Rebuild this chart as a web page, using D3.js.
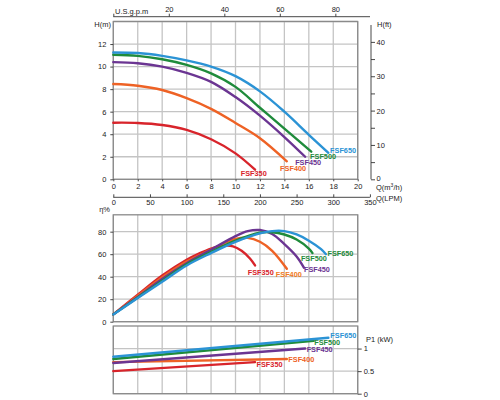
<!DOCTYPE html>
<meta charset="utf-8">
<style>
body { margin: 0; background: #fff; }
svg text { font-family: "Liberation Sans", Arial, sans-serif; font-size: 7.5px; fill: #222; }
.grid line { stroke: #c4c4c4; stroke-width: 1.3; }
.frame { fill: none; stroke: #8a8a8a; stroke-width: 1.3; }
.axis path, .axis line { stroke: #333; stroke-width: 0.9; }
.curve { fill: none; stroke-width: 2.4; stroke-linecap: round; }
.lbl { font-weight: bold; font-size: 7.3px; }
</style>
<body>
<div id="chart"></div>
</body>
<script src="https://d3js.org/d3.v7.min.js"></script>
<script>

// ---- data ----
var models = ["FSF350", "FSF400", "FSF450", "FSF500", "FSF650"];
var colors = ["#d8242b", "#ee6225", "#6b3592", "#1f8b3b", "#2b93d5"];

var qTicks = [0, 2, 4, 6, 8, 10, 12, 14, 16, 18, 20];
var gpmTicks = [0, 20, 40, 60, 80];
var lpmTicks = [0, 50, 100, 150, 200, 250, 300, 350];
var hTicks = [0, 2, 4, 6, 8, 10, 12];
var ftTicks = [0, 5, 10, 15, 20, 25, 30, 35, 40];
var effTicks = [0, 20, 40, 60, 80];
var powTicks = [0, 0.5, 1];

// head H(m) vs Q(m3/h)
var head350 = [[0,5.02],[2,5.0],[4,4.82],[6,4.38],[8,3.55],[10,2.3],[11.6,0.85]];
var head400 = [[0,8.45],[2,8.3],[4,7.92],[6,7.2],[8,6.25],[10,5.0],[12,3.65],[14.2,1.6]];
var head450 = [[0,10.4],[2,10.3],[4,10.0],[6,9.45],[8,8.65],[10,7.3],[12,5.65],[14,3.75],[15.7,2.0]];
var head500 = [[0,11.05],[2,10.95],[4,10.65],[6,10.15],[8,9.4],[10,8.2],[12,6.35],[14,4.5],[16.2,2.45]];
var head650 = [[0,11.25],[2,11.2],[4,10.95],[6,10.55],[8,10.0],[10,9.15],[12,7.8],[14,6.0],[16,3.95],[17.6,2.35]];

// efficiency % vs Q
var eff350 = [[0,6.5],[2,24],[4,41],[6,55],[7,60.5],[8,65],[9,67.5],[9.8,67],[10.5,63],[11.2,56],[11.6,50]];
var eff400 = [[0,6.5],[2,23],[4,39.5],[6,53.5],[8,64],[9,69.5],[10,73.5],[11,74.5],[12,71],[13,63],[14.2,47]];
var eff450 = [[0,6.5],[2,22],[4,38],[6,52],[8,64],[10,76],[11,80.5],[12,81.5],[13,78],[14,69],[15,58],[15.6,48]];
var eff500 = [[0,6.5],[2,21.5],[4,36.5],[6,51],[8,62],[10,72],[12,79],[13,79.5],[14,77.5],[15,73],[16,65],[16.3,61]];
var eff650 = [[0,6.5],[2,21],[4,35.5],[6,50],[8,61],[10,71],[12,78.5],[13,80.5],[14,80.5],[15,77.5],[16,72],[17,64.5],[17.4,60]];

// power P1 (kW) vs Q
var pow350 = [[0,0.5],[11.6,0.7]];
var pow400 = [[0,0.7],[14.2,0.77]];
var pow450 = [[0,0.68],[15.7,1.0]];
var pow500 = [[0,0.77],[16.4,1.17]];
var pow650 = [[0,0.82],[17.6,1.24]];

var headData = [head350, head400, head450, head500, head650];
var effData = [eff350, eff400, eff450, eff500, eff650];
var powData = [pow350, pow400, pow450, pow500, pow650];

// ---- layout ----
var width = 500, height = 400;
var x0 = 113.3, x1 = 357.7;

var svg = d3.select("#chart").append("svg")
    .attr("width", width)
    .attr("height", height);

var x = d3.scaleLinear().domain([0, 20]).range([x0, x1]);
var yH = d3.scaleLinear().domain([0, 14]).range([179.3, 21.5]);
var yFt = d3.scaleLinear().domain([0, (179.3 - 25) / 11.27 * 3.2808]).range([179.3, 25]);
var xGpm = d3.scaleLinear().domain([0, 20 * 4.4029 * (370 - x0) / (x1 - x0)]).range([x0, 370]);
var xLpm = d3.scaleLinear().domain([0, 350]).range([x0, x(350 / 16.667)]);
var yE = d3.scaleLinear().domain([0, 95]).range([321.7, 214.8]);
var yP = d3.scaleLinear().domain([0, 1.5]).range([393.7, 326]);

function panel(y, yGrid) {
  var g = svg.append("g").attr("class", "grid");
  g.selectAll(".v").data(qTicks).enter().append("line")
    .attr("x1", d => x(d)).attr("x2", d => x(d))
    .attr("y1", y.range()[1]).attr("y2", y.range()[0]);
  g.selectAll(".h").data(yGrid).enter().append("line")
    .attr("x1", x0).attr("x2", x1)
    .attr("y1", d => y(d)).attr("y2", d => y(d));
  svg.append("rect").attr("class", "frame")
    .attr("x", x0).attr("y", y.range()[1])
    .attr("width", x1 - x0).attr("height", y.range()[0] - y.range()[1]);
}

panel(yH, hTicks.concat([14]));
panel(yE, effTicks);
panel(yP, powTicks);

function cleanAxis(g) {
  g.attr("class", "axis");
  g.attr("font-size", null).attr("font-family", null);
}

// left axes
svg.append("g").attr("transform", "translate(" + x0 + ",0)")
  .call(d3.axisLeft(yH).tickValues(hTicks).tickSize(3).tickPadding(4))
  .call(cleanAxis).select(".domain").remove();
svg.append("g").attr("transform", "translate(" + x0 + ",0)")
  .call(d3.axisLeft(yE).tickValues(effTicks).tickSize(3).tickPadding(4))
  .call(cleanAxis).select(".domain").remove();

// right ft axis
svg.append("g").attr("transform", "translate(371,0)")
  .call(d3.axisRight(yFt).tickValues(ftTicks).tickSize(4).tickPadding(1.5)
    .tickFormat(d => d % 10 === 0 ? d : ""))
  .call(cleanAxis)
  .call(g => g.select(".domain").attr("d", "M0," + yFt.range()[1] + "V" + yFt.range()[0]))
  .call(g => g.selectAll(".tick text").filter(d => d === 0).attr("dy", "0.1em"));

// right P1 axis
svg.append("g").attr("transform", "translate(" + x1 + ",0)")
  .call(d3.axisRight(yP).tickValues(powTicks).tickSize(4).tickPadding(2)
    .tickFormat(d3.format("~g")))
  .call(cleanAxis).select(".domain").remove();

// top gpm axis
svg.append("g").attr("transform", "translate(0,16.7)")
  .call(d3.axisTop(xGpm).tickValues(gpmTicks).tickSize(3).tickPadding(1.5)
    .tickFormat(d => d === 0 ? "" : d))
  .call(cleanAxis)
  .call(g => g.select(".domain").attr("d", "M" + x0 + ",0H370"));

// bottom Q m3/h axis
svg.append("g").attr("transform", "translate(0,179.3)")
  .call(d3.axisBottom(x).tickValues(qTicks).tickSize(2).tickPadding(2))
  .call(cleanAxis).select(".domain").remove();

// LPM axis
svg.append("g").attr("transform", "translate(0,197.3)")
  .call(d3.axisTop(xLpm).tickValues(lpmTicks).tickSize(3).tickPadding(0))
  .call(cleanAxis)
  .call(g => g.selectAll("text").attr("y", 7.5))
  .call(g => g.select(".domain").attr("d", "M" + x0 + ",0H" + xLpm.range()[1]));

// axis titles
svg.append("text").attr("x", 115).attr("y", 13.5).text("U.S.g.p.m");
svg.append("text").attr("x", 111).attr("y", 26.5).attr("text-anchor", "end").text("H(m)");
svg.append("text").attr("x", 377).attr("y", 27).text("H(ft)");
svg.append("text").attr("x", 376).attr("y", 190).html("Q(m<tspan dy='-3' font-size='5px'>3</tspan><tspan dy='3'>/h)</tspan>");
svg.append("text").attr("x", 376).attr("y", 200.5).text("Q(LPM)");
svg.append("text").attr("x", 110).attr("y", 212).attr("text-anchor", "end").text("\u03b7%");
svg.append("text").attr("x", 366).attr("y", 341.5).text("P1 (kW)");

// curves
function drawCurves(data, y, offsets, labelColors, widths) {
  var line = d3.line()
    .x(d => x(d[0])).y(d => y(d[1]))
    .curve(d3.curveCatmullRom.alpha(0.5));
  data.forEach(function(pts, i) {
    svg.append("path").attr("class", "curve")
      .attr("d", line(pts))
      .attr("stroke", colors[i])
      .attr("stroke-width", widths ? widths[i] : 2.4);
  });
  data.forEach(function(pts, i) {
    var end = pts[pts.length - 1];
    svg.append("text").attr("class", "lbl")
      .attr("x", x(end[0]) + offsets[i][0])
      .attr("y", y(end[1]) + offsets[i][1])
      .style("fill", labelColors[i])
      .text(models[i]);
  });
}

drawCurves(headData, yH,
  [[-14.3, 6.7], [-6.7, 9.3], [-10, 8.6], [-1.2, 7.2], [1.7, 0.2]],
  colors);
drawCurves(effData, yE,
  [[-7.3, 9.5], [-11, 8], [0, 4.5], [-11.6, 8], [1.5, 1.5]],
  ["#d8242b", "#f07a22", "#6b3592", "#1f8b3b", "#1f8b3b"]);
drawCurves(powData, yP,
  [[1.5, 4.5], [1.5, 3.5], [1.5, 3.6], [0.5, 3.8], [2, 0.5]],
  colors, [2.4, 3, 2.4, 2.2, 2.4]);

</script>
